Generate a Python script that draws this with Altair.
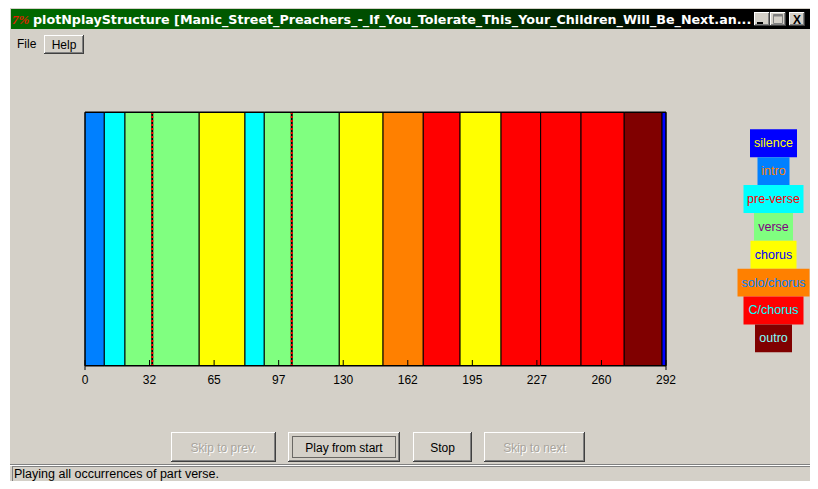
import altair as alt
import pandas as pd

# ---------------- data ----------------
seg_parts = ["intro", "pre-verse", "verse", "chorus", "pre-verse", "verse", "chorus",
             "solo/chorus", "C/chorus", "chorus", "C/chorus", "C/chorus", "C/chorus",
             "outro", "silence"]
seg_start = [0, 9.7, 20.1, 57.4, 80.4, 90.1, 127.8, 149.8, 170.0, 188.5, 209.1,
             229.0, 249.3, 271.0, 290.0]
seg_end = [9.7, 20.1, 57.4, 80.4, 90.1, 127.8, 149.8, 170.0, 188.5, 209.1, 229.0,
           249.3, 271.0, 290.0, 292.0]

marker_pos = [33.8, 103.9]

tick_values = [0, 32.44, 64.89, 97.33, 129.78, 162.22, 194.67, 227.11, 259.56, 292]
tick_labels = ["0", "32", "65", "97", "130", "162", "195", "227", "260", "292"]

legend_parts = ["silence", "intro", "pre-verse", "verse", "chorus", "solo/chorus",
                "C/chorus", "outro"]
legend_fill = ["#0000ff", "#0080ff", "#00ffff", "#80ff80", "#ffff00", "#ff8000",
               "#ff0000", "#800000"]
legend_text = ["#ffff00", "#ff8000", "#ff0000", "#800080", "#0000ff", "#0080ff",
               "#00ffff", "#80ffff"]

title_text = ("plotNplayStructure  [Manic_Street_Preachers_-_If_You_Tolerate_This_"
              "Your_Children_Will_Be_Next.an...")
status_text = "Playing all occurrences of part verse."
button_labels = ["Skip to prev.", "Play from start", "Stop", "Skip to next"]
button_enabled = [False, True, True, False]

# ---------------- layout (pixels, chart-relative) ----------------
W, H = 802, 473
GRAY = "#d4d0c8"
FONT = "Liberation Sans"
PLOT_X0, PLOT_X1 = 77, 658
PLOT_Y0, PLOT_Y1 = 104, 358
legend_cx = 765.5
legend_w = [47, 32, 60, 39, 46, 72, 60, 37]
button_x = [(163, 268), (280, 392), (405, 464), (476, 577)]
button_y = (424, 454)

one = pd.DataFrame({"a": [0]})
layers = []


def box(x0, x1, y0, y1, fill, stroke=None, sw=1, dash=None, fillop=1):
    kw = dict(fill=fill, fillOpacity=fillop)
    if stroke is not None:
        kw.update(stroke=stroke, strokeWidth=sw)
    if dash is not None:
        kw.update(strokeDash=dash)
    return alt.Chart(one).mark_rect(**kw).encode(
        x=alt.value(x0), x2=alt.value(x1), y=alt.value(y0), y2=alt.value(y1))


def hline(x0, x1, y, color, sw=1):
    return alt.Chart(one).mark_rule(color=color, strokeWidth=sw).encode(
        x=alt.value(x0), x2=alt.value(x1), y=alt.value(y))


def vline(x, y0, y1, color, sw=1):
    return alt.Chart(one).mark_rule(color=color, strokeWidth=sw).encode(
        x=alt.value(x), y=alt.value(y0), y2=alt.value(y1))


def label(x, y, text, size=12, color="black", align="left", weight="normal",
          font=FONT, style="normal"):
    return alt.Chart(one).mark_text(
        text=text, fontSize=size, color=color, align=align, baseline="middle",
        font=font, fontWeight=weight, fontStyle=style).encode(
        x=alt.value(x), y=alt.value(y))


def raised(x0, x1, y0, y1):
    return [
        box(x0, x1, y0, y1, GRAY),
        hline(x0, x1 - 1, y0 + 0.5, "#ffffff"),
        vline(x0 + 0.5, y0, y1 - 1, "#ffffff"),
        hline(x0, x1, y1 - 0.5, "#404040"),
        vline(x1 - 0.5, y0, y1, "#404040"),
        hline(x0 + 1, x1 - 1, y1 - 1.5, "#808080"),
        vline(x1 - 1.5, y0 + 1, y1 - 1, "#808080"),
    ]


# window background
layers.append(box(2, W, 0, H, GRAY))

# title bar
grad = alt.Gradient(gradient="linear",
                    stops=[alt.GradientStop(color="#006a00", offset=0),
                           alt.GradientStop(color="#004a00", offset=0.5),
                           alt.GradientStop(color="#000000", offset=0.85),
                           alt.GradientStop(color="#000000", offset=1)],
                    x1=0, x2=1, y1=0, y2=0)
layers.append(alt.Chart(one).mark_rect(fill=grad).encode(
    x=alt.value(3), x2=alt.value(W), y=alt.value(1), y2=alt.value(21)))
layers.append(label(4, 11.5, "7%", size=13, color="#e02000", weight="bold",
                    font="Liberation Serif", style="italic"))
layers.append(label(25, 11.5, title_text, size=12.7, color="white", weight="bold",
                    font="DejaVu Sans"))
# window buttons
for (bx0, bx1) in [(746, 762), (762, 778), (781, 797)]:
    layers += raised(bx0, bx1, 4, 18)
layers.append(hline(749, 755, 15, "black", sw=2))
layers.append(box(765.5, 774.5, 6.5, 15.5, None, stroke="#808080", sw=1, fillop=0))
layers.append(hline(765.5, 774.5, 7.5, "#808080", sw=2))
layers.append(label(789, 11.5, "X", size=12, color="black", align="center",
                    weight="bold"))

# menu bar
layers.append(label(9, 36, "File", size=12))
layers += raised(36, 76, 27, 46)
layers.append(label(56, 36.5, "Help", size=12, align="center"))

# ---------------- structure plot ----------------
xscale = alt.Scale(domain=[0, 292], range=[PLOT_X0, PLOT_X1], nice=False, zero=False)
seg_df = pd.DataFrame({"part": seg_parts, "start": seg_start, "end": seg_end})
layers.append(alt.Chart(seg_df).mark_rect(stroke="black", strokeWidth=1).encode(
    x=alt.X("start:Q", scale=xscale, axis=None),
    x2="end:Q",
    y=alt.value(PLOT_Y0), y2=alt.value(PLOT_Y1),
    color=alt.Color("part:N", scale=alt.Scale(domain=legend_parts, range=legend_fill),
                    legend=None)))

mk_df = pd.DataFrame({"pos": marker_pos})
layers.append(alt.Chart(mk_df).mark_rule(color="black", strokeWidth=2).encode(
    x=alt.X("pos:Q", scale=xscale, axis=None),
    y=alt.value(PLOT_Y0), y2=alt.value(PLOT_Y1)))
layers.append(alt.Chart(mk_df).mark_rule(color="#ff0000", strokeWidth=2,
                                         strokeDash=[2, 2]).encode(
    x=alt.X("pos:Q", scale=xscale, axis=None),
    y=alt.value(PLOT_Y0), y2=alt.value(PLOT_Y1)))

# frame
layers.append(box(PLOT_X0, PLOT_X1, PLOT_Y0 + 0.5, PLOT_Y1 - 0.5, None,
                  stroke="black", sw=1, fillop=0))

tick_df = pd.DataFrame({"v": tick_values, "lab": tick_labels})
layers.append(alt.Chart(tick_df).mark_rule(color="black", strokeWidth=1).encode(
    x=alt.X("v:Q", scale=xscale, axis=None),
    y=alt.value(PLOT_Y1 - 6), y2=alt.value(PLOT_Y1)))
end_df = pd.DataFrame({"v": [tick_values[0], tick_values[-1]]})
layers.append(alt.Chart(end_df).mark_rule(color="black", strokeWidth=1).encode(
    x=alt.X("v:Q", scale=xscale, axis=None),
    y=alt.value(PLOT_Y1), y2=alt.value(PLOT_Y1 + 4)))
layers.append(alt.Chart(tick_df).mark_text(fontSize=12, font=FONT, color="black",
                                           baseline="middle").encode(
    x=alt.X("v:Q", scale=xscale, axis=None),
    y=alt.value(PLOT_Y1 + 13.5),
    text="lab:N"))

# ---------------- legend ----------------
leg_df = pd.DataFrame({"part": legend_parts})
yscale = alt.Scale(domain=legend_parts, range=[121.3, 344.3], paddingInner=0,
                   paddingOuter=0)
for p, f, t, w in zip(legend_parts, legend_fill, legend_text, legend_w):
    base = alt.Chart(leg_df).transform_filter(alt.datum.part == p)
    layers.append(base.mark_rect(fill=f).encode(
        x=alt.value(legend_cx - w / 2), x2=alt.value(legend_cx + w / 2),
        y=alt.Y("part:N", scale=yscale, axis=None)))
    layers.append(base.mark_text(fontSize=12.5, font=FONT, color=t,
                                 baseline="middle").encode(
        x=alt.value(legend_cx),
        y=alt.Y("part:N", scale=yscale, axis=None),
        text="part:N"))

# ---------------- buttons ----------------
by0, by1 = button_y
for (bx0, bx1), lab, en in zip(button_x, button_labels, button_enabled):
    layers += raised(bx0, bx1, by0, by1)
    cx = (bx0 + bx1) / 2
    if en:
        layers.append(label(cx, 439.5, lab, size=12, align="center"))
    else:
        layers.append(label(cx + 1, 440.5, lab, size=12, color="#ffffff", align="center"))
        layers.append(label(cx, 439.5, lab, size=12, color="#a8a49c", align="center"))
# focus rectangle on "Play from start"
layers.append(box(button_x[1][0] + 4.5, button_x[1][1] - 4.5, by0 + 4.5, by1 - 4.5,
                  None, stroke="black", sw=1, dash=[1, 1], fillop=0))

# ---------------- status bar ----------------
layers.append(hline(2, W, 456.5, "#808080"))
layers.append(hline(2, W, 457.5, "#ffffff"))
layers.append(hline(4, W, 458.5, "#808080"))
layers.append(vline(4.5, 458, H, "#808080"))
layers.append(label(6, 465.5, status_text, size=12.5))

chart = alt.layer(*layers).properties(
    width=W, height=H,
    autosize=alt.AutoSizeParams(type="none"),
    padding=0,
    background="white",
).configure_view(stroke=None)

chart.save("out.html", embed_options={"renderer": "svg", "actions": False})
